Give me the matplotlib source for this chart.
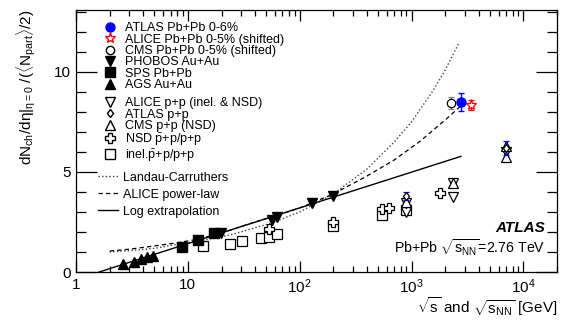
import matplotlib
matplotlib.use("Agg")
import matplotlib.pyplot as plt
from matplotlib.lines import Line2D
from matplotlib.ticker import FixedLocator, FixedFormatter, MultipleLocator, NullFormatter

plt.rcParams['font.family'] = 'Liberation Sans'
plt.rcParams['mathtext.fontset'] = 'custom'
plt.rcParams['mathtext.rm'] = 'Liberation Sans'
plt.rcParams['mathtext.it'] = 'Liberation Sans'
plt.rcParams['mathtext.bf'] = 'Liberation Sans:bold'

# heavy-ion points: sqrt(s_NN) [GeV] and dNch/deta / (Npart/2)
atlas_pbpb_x = [2760]
atlas_pbpb_y = [8.5]
atlas_pbpb_err = [0.45]

alice_pbpb_x = [3400]
alice_pbpb_y = [8.35]
alice_pbpb_err = [0.25]

cms_pbpb_x = [2250]
cms_pbpb_y = [8.45]
cms_pbpb_err = [0.28]

phobos_x = [19.6, 56, 62.4, 130, 200]
phobos_y = [1.97, 2.6, 2.75, 3.43, 3.78]

sps_x = [8.8, 12.3, 17.3]
sps_y = [1.23, 1.6, 1.93]

ags_x = [2.63, 3.28, 3.84, 4.29, 4.86]
ags_y = [0.38, 0.51, 0.63, 0.73, 0.81]

# p+p and pbar+p points
alice_pp_x = [900, 900, 2360, 2360, 7000]
alice_pp_y = [2.98, 3.43, 3.77, 4.43, 6.0]

atlas_pp_x = [900, 7000]
atlas_pp_y = [3.8, 6.2]
atlas_pp_err = [0.2, 0.35]

cms_pp_x = [900, 2360, 7000, 7000]
cms_pp_y = [3.48, 4.47, 5.75, 6.3]

nsd_x = [53, 200, 546, 630, 1800]
nsd_y = [2.15, 2.5, 3.13, 3.2, 3.95]

inel_x = [13.6, 23.6, 30.8, 44.7, 53, 62.7, 200, 546, 900]
inel_y = [1.3, 1.38, 1.57, 1.68, 1.77, 1.9, 2.3, 2.85, 3.1]

# model curves
landau_x = [2, 3, 5, 8, 14, 25, 56, 100, 200, 400, 700, 1000, 1570, 2000, 2680]
landau_y = [1.0, 1.07, 1.18, 1.38, 1.6, 1.88, 2.45, 3.0, 3.9, 5.15, 6.5, 7.5, 9.1, 10.1, 11.5]

powerlaw_x = [2, 3, 5, 8, 12, 20, 35, 60, 100, 200, 400, 700, 1200, 2000, 2760]
powerlaw_y = [1.05, 1.14, 1.3, 1.46, 1.63, 1.95, 2.4, 2.8, 3.2, 3.9, 4.8, 5.6, 6.55, 7.6, 8.3]

logext_x = [1.61, 2760]
logext_y = [0.0, 5.78]

fig = plt.figure(figsize=(5.65, 3.2), dpi=100)
ax = fig.add_axes([0.1345, 0.15, 0.8515, 0.819])

ax.plot(landau_x, landau_y, ls=(0, (1, 1.6)), color='0.25', lw=1.0)
ax.plot(powerlaw_x, powerlaw_y, ls=(0, (3.5, 2.5)), color='k', lw=0.9)
ax.plot(logext_x, logext_y, '-', color='k', lw=1.0)

op = dict(mfc='white', mec='k', mew=0.9, ls='none')
ax.plot(inel_x, inel_y, 's', ms=7, **op)
ax.plot(nsd_x, nsd_y, 'P', ms=7.5, **op)
ax.plot(alice_pp_x, alice_pp_y, 'v', ms=6.5, **op)
ax.plot(cms_pp_x, cms_pp_y, '^', ms=6.5, **op)
ax.errorbar(atlas_pp_x, atlas_pp_y, yerr=atlas_pp_err, fmt='d', ms=4.5, mfc='white',
            mec='k', mew=0.9, ecolor='blue', elinewidth=1, capsize=2)

ax.plot(ags_x, ags_y, '^', ms=6.5, color='k', ls='none')
ax.plot(sps_x, sps_y, 's', ms=6.5, color='k', ls='none')
ax.plot(phobos_x, phobos_y, 'v', ms=7, color='k', ls='none')

ax.errorbar(cms_pbpb_x, cms_pbpb_y, yerr=cms_pbpb_err, fmt='o', ms=6, mfc='white',
            mec='k', mew=0.9, ecolor='0.5', elinewidth=1, capsize=2)
ax.errorbar(alice_pbpb_x, alice_pbpb_y, yerr=alice_pbpb_err, fmt='*', ms=8, mfc='white',
            mec='red', mew=0.9, ecolor='red', elinewidth=1, capsize=2)
ax.errorbar(atlas_pbpb_x, atlas_pbpb_y, yerr=atlas_pbpb_err, fmt='o', ms=6.5, color='blue',
            elinewidth=1, capsize=2.5)

ax.set_xscale('log')
ax.set_xlim(1, 2.0e4)
ax.set_ylim(0, 13.1)

ax.xaxis.set_major_locator(FixedLocator([1, 10, 100, 1000, 10000]))
ax.xaxis.set_major_formatter(FixedFormatter(['1', '10', '$10^2$', '$10^3$', '$10^4$']))
minor = [m * 10 ** e for e in range(0, 5) for m in range(2, 10)]
ax.xaxis.set_minor_locator(FixedLocator(minor))
ax.xaxis.set_minor_formatter(NullFormatter())
ax.yaxis.set_major_locator(MultipleLocator(5))
ax.yaxis.set_minor_locator(MultipleLocator(1))

ax.tick_params(which='both', direction='in', top=True, right=True, width=0.9, labelsize=11)
ax.tick_params(axis='y', which='major', length=15, pad=4)
ax.tick_params(axis='y', which='minor', length=7)
ax.tick_params(axis='x', which='major', length=8, pad=4)
ax.tick_params(axis='x', which='minor', length=4)
for s in ax.spines.values():
    s.set_linewidth(0.9)

ax.set_ylabel(r'$\mathrm{dN_{ch}/d}\eta|_{\eta=0}$ /$(\langle\mathrm{N_{part}}\rangle/2)$',
              loc='top', fontsize=11)
ax.yaxis.set_label_coords(-0.08, 1.0)
ax.set_xlabel(r'$\sqrt{\mathrm{s}}$ and $\sqrt{\mathrm{s_{NN}}}$ [GeV]', loc='right',
              fontsize=11)
ax.xaxis.set_label_coords(1.0, -0.088)

ax.text(0.975, 0.153, 'ATLAS', transform=ax.transAxes, ha='right', va='baseline',
        fontsize=11, fontweight='bold', fontstyle='italic')
ax.text(0.975, 0.073, r'Pb+Pb $\sqrt{\mathrm{s_{NN}}}$=2.76 TeV', transform=ax.transAxes,
        ha='right', va='baseline', fontsize=10.2)

h1 = [
    Line2D([], [], marker='o', color='blue', ls='none', ms=6.5),
    Line2D([], [], marker='*', mfc='white', mec='red', ls='none', ms=8),
    Line2D([], [], marker='o', mfc='white', mec='k', ls='none', ms=6),
    Line2D([], [], marker='v', color='k', ls='none', ms=7),
    Line2D([], [], marker='s', color='k', ls='none', ms=6.5),
    Line2D([], [], marker='^', color='k', ls='none', ms=6.5),
]
l1 = ['ATLAS Pb+Pb 0-6%', 'ALICE Pb+Pb 0-5% (shifted)', 'CMS Pb+Pb 0-5% (shifted)',
      'PHOBOS Au+Au', 'SPS Pb+Pb', 'AGS Au+Au']
h2 = [
    Line2D([], [], marker='v', mfc='white', mec='k', ls='none', ms=6.5),
    Line2D([], [], marker='d', mfc='white', mec='k', ls='none', ms=4.5),
    Line2D([], [], marker='^', mfc='white', mec='k', ls='none', ms=6.5),
    Line2D([], [], marker='P', mfc='white', mec='k', ls='none', ms=7),
    Line2D([], [], marker='s', mfc='white', mec='k', ls='none', ms=7),
]
l2 = ['ALICE p+p (inel. & NSD)', 'ATLAS p+p', 'CMS p+p (NSD)',
      r'NSD $\bar{\rm p}$+p/p+p', r'inel.$\bar{\rm p}$+p/p+p']
h3 = [
    Line2D([], [], ls=(0, (1, 1.6)), color='0.25', lw=1.0),
    Line2D([], [], ls=(0, (3.5, 2.5)), color='k', lw=0.9),
    Line2D([], [], ls='-', color='k', lw=1.0),
]
l3 = ['Landau-Carruthers', 'ALICE power-law', 'Log extrapolation']

kw = dict(frameon=False, fontsize=9, borderpad=0, borderaxespad=0,
          handlelength=1.6, handletextpad=0.4, loc='upper left')
leg1 = ax.legend(h1, l1, bbox_to_anchor=(0.05, 0.953), labelspacing=-0.05, **kw)
ax.add_artist(leg1)
leg2 = ax.legend(h2, l2, bbox_to_anchor=(0.05, 0.667), labelspacing=-0.05, **kw)
ax.add_artist(leg2)
leg3 = ax.legend(h3, l3, bbox_to_anchor=(0.045, 0.383), labelspacing=0.4, **kw)

fig.savefig('out.png', dpi=100)
